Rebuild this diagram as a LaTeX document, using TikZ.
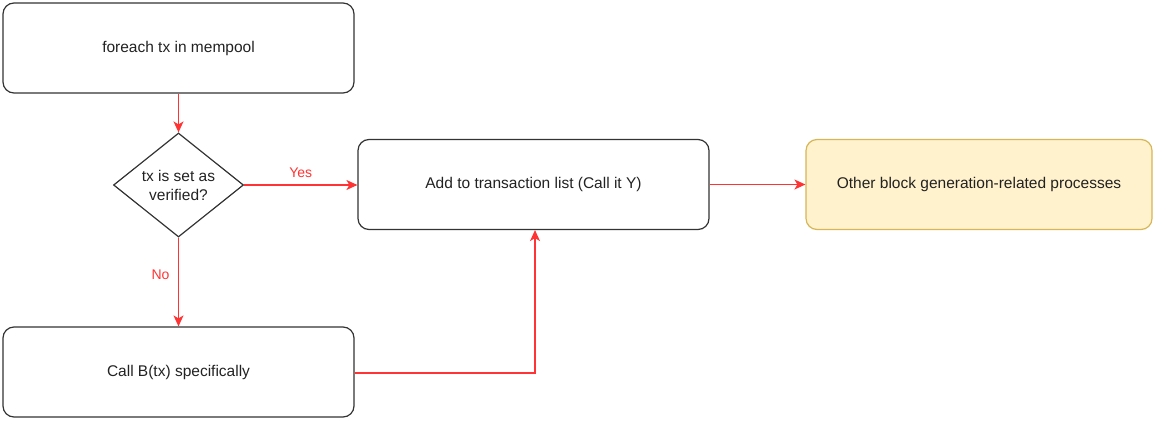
\documentclass[tikz,border=0pt]{standalone}
\usepackage{fontspec}
\setmainfont{Liberation Sans}
\usetikzlibrary{shapes.geometric,arrows.meta}
\definecolor{redline}{HTML}{FF3333}
\definecolor{boxline}{HTML}{333333}
\definecolor{txt}{HTML}{222222}
\definecolor{yfill}{HTML}{FFF2CC}
\definecolor{yline}{HTML}{D6B656}
\begin{document}
\begin{tikzpicture}[x=1pt,y=-1pt,
  proc/.style={draw=boxline,text=txt,line width=1.2pt,rounded corners=11pt,minimum width=351pt,minimum height=90pt,font=\fontsize{15.5}{18}\selectfont,inner sep=0pt},
  decision/.style={draw=boxline,text=txt,line width=1.2pt,diamond,aspect=1.25,minimum width=130pt,minimum height=104pt,inner sep=0pt,align=center,font=\fontsize{15.5}{19}\selectfont},
  flow/.style={draw=redline,line width=1.3pt,-{Stealth[length=11pt,width=10pt,inset=3pt]}},
  lbl/.style={text=redline,font=\fontsize{14}{16}\selectfont}]
\useasboundingbox (0,0) rectangle (1155,420);
\node[proc] (start) at (178.5,48) {foreach tx in mempool};
\node[decision] (dec) at (178.5,185) {tx is set as\\verified?};
\node[proc] (add) at (533.5,184.5) {Add to transaction list (Call it Y)};
\node[proc,fill=yfill,draw=yline,minimum width=346pt] (other) at (979,184.5) {Other block generation-related processes};
\node[proc] (callb) at (178.5,372) {Call B(tx) specifically};
\coordinate (bend) at (535,373);
\draw[flow] (start) -- (dec);
\draw[flow] (dec.east) -- node[lbl,above=3pt,pos=0.5]{Yes} (add.west |- dec.east);
\draw[flow] (dec) -- node[lbl,pos=0.42,left=5pt]{No} (callb);
\draw[flow] (callb.east |- bend) -- (bend) -- (bend |- add.south);
\draw[flow] (add) -- (other);
\end{tikzpicture}
\end{document}
